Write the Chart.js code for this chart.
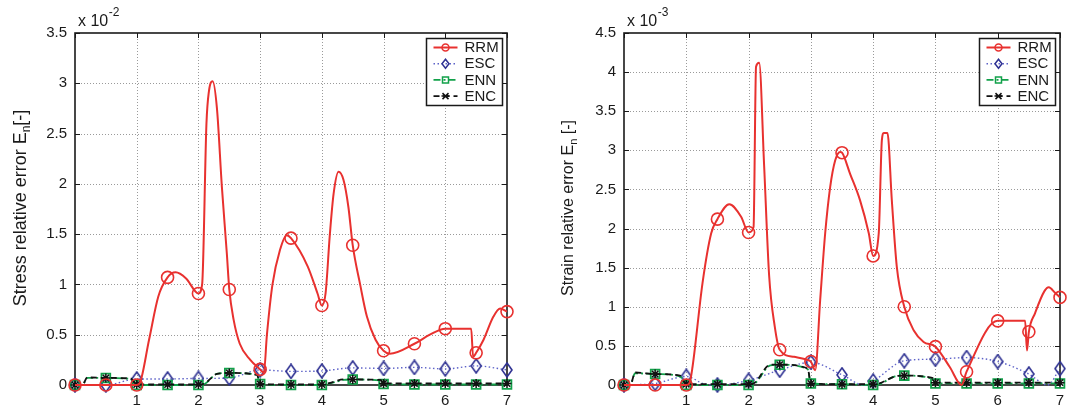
<!DOCTYPE html>
<html>
<head>
<meta charset="utf-8">
<script src="https://cdn.jsdelivr.net/npm/chart.js@4.4.0/dist/chart.umd.min.js"></script>
<style>
  html, body { margin: 0; padding: 0; background: #fff; }
  #wrap { position: relative; width: 1075px; height: 411px; overflow: hidden; }
  #left { position: absolute; left: 0; top: 0; }
  #right { position: absolute; left: 540px; top: 0; }
</style>
</head>
<body>
<div id="wrap">
  <canvas id="left" width="540" height="411"></canvas>
  <canvas id="right" width="535" height="411"></canvas>
</div>
<script>
// ticks
const xTickLabels = ['', '1', '2', '3', '4', '5', '6', '7'];
const stressTickLabels = ['0', '0.5', '1', '1.5', '2', '2.5', '3', '3.5'];
const strainTickLabels = ['0', '0.5', '1', '1.5', '2', '2.5', '3', '3.5', '4', '4.5'];
const seriesNames = ['RRM', 'ESC', 'ENN', 'ENC'];
// x positions carrying a marker
const markerX = [0, 0.5, 1, 1.5, 2, 2.5, 3, 3.5, 4, 4.5, 5, 5.5, 6, 6.5, 7];

// stress (x 10^-2)
const stressRrmX = [0, 0.5, 1, 1.05, 1.2, 1.35, 1.5, 1.63, 1.8, 2, 2.06, 2.13, 2.17, 2.23, 2.3, 2.38, 2.46, 2.5, 2.57, 2.67, 2.84, 3, 3.06, 3.11, 3.2, 3.32, 3.43, 3.5, 3.77, 3.93, 4, 4.06, 4.13, 4.19, 4.27, 4.35, 4.43, 4.5, 4.62, 4.73, 4.87, 5, 5.1, 5.5, 5.75, 6, 6.42, 6.45, 6.5, 6.62, 6.78, 6.89, 7];
const stressRrmY = [0, 0, 0, 0.02, 0.45, 0.88, 1.07, 1.12, 1.06, 0.91, 1.0, 2.6, 2.92, 3.02, 2.75, 1.97, 1.31, 0.95, 0.65, 0.41, 0.25, 0.155, 0.12, 0.5, 1.0, 1.34, 1.49, 1.46, 1.18, 0.91, 0.79, 0.91, 1.5, 1.9, 2.12, 2.04, 1.77, 1.39, 1.0, 0.68, 0.45, 0.34, 0.31, 0.41, 0.5, 0.56, 0.56, 0.28, 0.32, 0.45, 0.68, 0.76, 0.73];
const stressEscX = markerX;
const stressEscY = [0, 0, 0.06, 0.06, 0.065, 0.07, 0.15, 0.135, 0.14, 0.17, 0.165, 0.175, 0.16, 0.19, 0.15];
const stressNearX = [0, 0.12, 0.2, 0.5, 0.9, 1, 1.5, 2, 2.1, 2.3, 2.5, 2.95, 3, 3.5, 4, 4.1, 4.35, 4.5, 4.95, 5, 5.5, 6, 6.5, 7];
const stressEnnY = [0, 0, 0.07, 0.07, 0.06, 0, 0, 0, 0.01, 0.11, 0.12, 0.1, 0.01, 0, 0, 0.01, 0.05, 0.055, 0.045, 0.01, 0.005, 0.005, 0.005, 0.005];
const stressEncY = [0, 0, 0.075, 0.07, 0.065, 0.005, 0.005, 0.005, 0.015, 0.11, 0.12, 0.1, 0.01, 0.005, 0.005, 0.015, 0.055, 0.055, 0.05, 0.015, 0.015, 0.015, 0.015, 0.015];

// strain (x 10^-3)
const strainRrmX = [0, 0.5, 1, 1.05, 1.1, 1.26, 1.4, 1.5, 1.69, 1.88, 2, 2.08, 2.12, 2.17, 2.25, 2.33, 2.42, 2.5, 2.73, 2.95, 3, 3.07, 3.15, 3.23, 3.31, 3.39, 3.47, 3.5, 3.63, 3.79, 3.93, 4, 4.09, 4.14, 4.17, 4.23, 4.3, 4.38, 4.5, 4.65, 4.81, 5, 5.23, 5.42, 5.5, 6, 6.44, 6.47, 6.5, 6.6, 6.75, 6.82, 6.92, 7];
const strainRrmY = [0, 0, 0, 0.02, 0.23, 1.3, 1.94, 2.12, 2.31, 2.15, 1.95, 2.02, 4.07, 4.12, 2.8, 1.4, 0.75, 0.45, 0.36, 0.32, 0.3, 0.19, 1.09, 1.94, 2.53, 2.87, 2.98, 2.97, 2.7, 2.36, 1.94, 1.65, 1.94, 3.13, 3.22, 3.22, 2.36, 1.51, 1.0, 0.7, 0.55, 0.49, 0.23, 0, 0.17, 0.82, 0.82, 0.44, 0.68, 0.92, 1.2, 1.25, 1.18, 1.12];
const strainEscX = [0, 0.5, 1, 1.3, 1.5, 2, 2.5, 3, 3.5, 3.85, 4, 4.5, 5, 5.5, 6, 6.5, 6.8, 7];
const strainEscY = [0, 0.02, 0.11, 0.01, 0, 0.06, 0.19, 0.29, 0.13, 0, 0.05, 0.31, 0.33, 0.35, 0.3, 0.14, 0, 0.21];
const strainNearX = [0, 0.1, 0.18, 0.5, 0.9, 1, 1.5, 2, 2.1, 2.35, 2.5, 2.95, 3, 3.5, 4, 4.1, 4.35, 4.5, 4.95, 5, 5.5, 6, 6.5, 7];
const strainEnnY = [0, 0, 0.15, 0.14, 0.11, 0, 0, 0, 0.02, 0.25, 0.26, 0.2, 0.02, 0.01, 0, 0.01, 0.11, 0.12, 0.08, 0.02, 0.02, 0.02, 0.02, 0.02];
const strainEncY = [0, 0, 0.16, 0.14, 0.12, 0.01, 0.01, 0.01, 0.03, 0.26, 0.26, 0.21, 0.02, 0.01, 0.01, 0.02, 0.11, 0.12, 0.09, 0.03, 0.03, 0.03, 0.03, 0.03];

const RED = '#e8312f', BLUE = '#2e3192', BLUE_LINE = '#5d62c8', GREEN = '#12a14a', BLACK = '#111';
const FONT = '"Liberation Sans", Arial, Helvetica, sans-serif';
Chart.defaults.font.family = FONT;
Chart.defaults.font.size = 15;
Chart.defaults.color = '#1a1a1a';

// tall diamond marker (matlab 'd')
const diamond = document.createElement('canvas');
diamond.width = 12; diamond.height = 16;
(function(){
    const c = diamond.getContext('2d');
    c.strokeStyle = BLUE; c.lineWidth = 1.6;
    c.beginPath();
    c.moveTo(6, 1); c.lineTo(11, 8); c.lineTo(6, 15); c.lineTo(1, 8);
    c.closePath(); c.stroke();
})();

const markSet = new Set(markerX);
const pts = (xs, ys) => xs.map((x, i) => ({x: x, y: ys[i]}));
const markRadius = r => (ctx => (ctx.raw && markSet.has(ctx.raw.x)) ? r : 0);

// small marker for the legend
function drawMark(ctx, kind, x, y, color) {
    ctx.save();
    ctx.strokeStyle = color; ctx.lineWidth = 1.5; ctx.setLineDash([]);
    ctx.beginPath();
    if (kind === 'circle') {
        ctx.arc(x, y, 3.5, 0, Math.PI * 2);
    } else if (kind === 'diamond') {
        ctx.moveTo(x, y - 4.5); ctx.lineTo(x + 3.5, y); ctx.lineTo(x, y + 4.5); ctx.lineTo(x - 3.5, y); ctx.closePath();
    } else if (kind === 'square') {
        ctx.rect(x - 3, y - 3, 6, 6);
    } else {
        ctx.moveTo(x - 3, y - 3); ctx.lineTo(x + 3, y + 3);
        ctx.moveTo(x + 3, y - 3); ctx.lineTo(x - 3, y + 3);
        ctx.moveTo(x - 4, y); ctx.lineTo(x + 4, y);
    }
    ctx.stroke();
    ctx.restore();
}

const matlabPlugin = {
    id: 'matlab',
    beforeDatasetsDraw(chart, args, o) {
        const {ctx, chartArea: a, scales: {x, y}} = chart;
        ctx.save();
        // dotted grid
        ctx.strokeStyle = '#9a9a9a'; ctx.lineWidth = 1; ctx.setLineDash([1, 2]);
        ctx.beginPath();
        x.ticks.forEach(t => {
            const p = Math.round(x.getPixelForValue(t.value)) + 0.5;
            if (p > a.left + 2 && p < a.right - 2) { ctx.moveTo(p, a.top); ctx.lineTo(p, a.bottom); }
        });
        y.ticks.forEach(t => {
            const p = Math.round(y.getPixelForValue(t.value)) + 0.5;
            if (p > a.top + 2 && p < a.bottom - 2) { ctx.moveTo(a.left, p); ctx.lineTo(a.right, p); }
        });
        ctx.stroke();
        // inward ticks
        ctx.setLineDash([]);
        ctx.strokeStyle = '#1a1a1a'; ctx.lineWidth = 1;
        ctx.beginPath();
        x.ticks.forEach(t => {
            const p = Math.round(x.getPixelForValue(t.value)) + 0.5;
            ctx.moveTo(p, a.bottom); ctx.lineTo(p, a.bottom - 5);
            ctx.moveTo(p, a.top); ctx.lineTo(p, a.top + 5);
        });
        y.ticks.forEach(t => {
            const p = Math.round(y.getPixelForValue(t.value)) + 0.5;
            ctx.moveTo(a.left, p); ctx.lineTo(a.left + 5, p);
            ctx.moveTo(a.right, p); ctx.lineTo(a.right - 5, p);
        });
        ctx.stroke();
        ctx.lineWidth = 1.6;
        ctx.strokeRect(a.left, a.top, a.right - a.left, a.bottom - a.top);
        ctx.restore();
    },
    afterDatasetsDraw(chart, args, o) {
        const {ctx, chartArea: a} = chart;
        const w = 76, h = 67;
        const bx = Math.round(a.right - 5.5 - w) + 0.5, by = Math.round(a.top + 5) + 0.5;
        ctx.save();
        ctx.fillStyle = '#fff';
        ctx.fillRect(bx, by, w, h);
        ctx.strokeStyle = '#1a1a1a'; ctx.lineWidth = 1.5;
        ctx.strokeRect(bx, by, w, h);
        chart.data.datasets.forEach((ds, i) => {
            const cy = by + 9 + i * 16.2;
            ctx.strokeStyle = ds.borderColor;
            ctx.lineWidth = ds.borderWidth;
            ctx.setLineDash(ds.borderDash || []);
            ctx.beginPath(); ctx.moveTo(bx + 7, cy); ctx.lineTo(bx + 31, cy); ctx.stroke();
            drawMark(ctx, ds.markKind, bx + 19, cy, ds.pointBorderColor);
            ctx.fillStyle = '#1a1a1a';
            ctx.font = '15px ' + FONT;
            ctx.textBaseline = 'middle';
            ctx.fillText(ds.label, bx + 38, cy + 0.5);
        });
        ctx.restore();
    },
    afterDraw(chart, args, o) {
        const {ctx, chartArea: a} = chart;
        ctx.save();
        ctx.fillStyle = '#1a1a1a';
        // y title with subscript
        ctx.translate(o.titleX, (a.top + a.bottom) / 2 - 1);
        ctx.rotate(-Math.PI / 2);
        ctx.textBaseline = 'alphabetic';
        const big = o.titleSize + 'px ' + FONT, small = Math.round(o.titleSize * 0.68) + 'px ' + FONT;
        ctx.font = big;
        const w1 = ctx.measureText(o.title[0]).width, w3 = ctx.measureText(o.title[2]).width;
        ctx.font = small;
        const w2 = ctx.measureText(o.title[1]).width;
        let tx = -(w1 + w2 + w3) / 2;
        ctx.font = big; ctx.fillText(o.title[0], tx, 0); tx += w1;
        ctx.font = small; ctx.fillText(o.title[1], tx, 4); tx += w2;
        ctx.font = big; ctx.fillText(o.title[2], tx, 0);
        ctx.restore();
        // exponent label
        ctx.save();
        ctx.fillStyle = '#1a1a1a';
        ctx.textBaseline = 'alphabetic';
        ctx.font = '16px ' + FONT;
        const ex = a.left + 3;
        ctx.fillText('x 10', ex, 26);
        const ew = ctx.measureText('x 10').width;
        ctx.font = '12px ' + FONT;
        ctx.fillText(o.exponent, ex + ew + 0.5, 16);
        ctx.restore();
    }
};

function makeDatasets(rrm, esc, enn, enc) {
    return [
        {label: seriesNames[0], data: rrm, borderColor: RED, borderWidth: 2, pointStyle: 'circle',
         pointRadius: markRadius(6), pointBorderColor: RED, pointBorderWidth: 1.6, markKind: 'circle', order: 0},
        {label: seriesNames[1], data: esc, borderColor: BLUE_LINE, borderWidth: 1.4, borderDash: [1.5, 2.5], pointStyle: diamond,
         pointRadius: markRadius(5), pointBorderColor: BLUE, markKind: 'diamond', order: 3},
        {label: seriesNames[2], data: enn, borderColor: GREEN, borderWidth: 1.8, borderDash: [7, 3, 2, 3], pointStyle: 'rect',
         pointRadius: markRadius(6.2), pointBorderColor: GREEN, pointBorderWidth: 1.8, markKind: 'square', order: 2},
        {label: seriesNames[3], data: enc, borderColor: BLACK, borderWidth: 1.8, borderDash: [6, 4], pointStyle: 'star',
         pointRadius: markRadius(4.5), pointBorderColor: BLACK, pointBorderWidth: 1.5, markKind: 'star', order: 1}
    ];
}

function makeChart(id, datasets, yMax, yLabels, plotLeft, padRight, plug) {
    return new Chart(document.getElementById(id), {
        type: 'line',
        data: {datasets: datasets},
        options: {
            responsive: false,
            animation: false,
            events: [],
            clip: false,
            layout: {padding: {left: 0, right: padRight, top: 33, bottom: 0}},
            elements: {
                line: {cubicInterpolationMode: 'monotone', fill: false},
                point: {backgroundColor: 'rgba(0,0,0,0)', hitRadius: 0, hoverRadius: 0}
            },
            datasets: {line: {clip: false, pointBackgroundColor: 'rgba(0,0,0,0)'}},
            plugins: {legend: {display: false}, tooltip: {enabled: false}, matlab: plug},
            scales: {
                x: {
                    type: 'linear', min: 0, max: 7,
                    grid: {display: false, drawTicks: false},
                    border: {display: false},
                    ticks: {stepSize: 1, autoSkip: false, maxRotation: 0, padding: 7,
                            callback: v => xTickLabels[Math.round(v)]},
                    afterFit: s => { s.height = 26; }
                },
                y: {
                    min: 0, max: yMax,
                    grid: {display: false, drawTicks: false},
                    border: {display: false},
                    ticks: {stepSize: 0.5, autoSkip: false, padding: 8,
                            callback: v => yLabels[Math.round(v / 0.5)]},
                    afterFit: s => { s.width = plotLeft; }
                }
            }
        },
        plugins: [matlabPlugin]
    });
}

makeChart('left',
    makeDatasets(pts(stressRrmX, stressRrmY), pts(stressEscX, stressEscY), pts(stressNearX, stressEnnY), pts(stressNearX, stressEncY)),
    3.5, stressTickLabels, 75, 33,
    {title: ['Stress relative error E', 'n', '[-]'], titleX: 26, titleSize: 18, exponent: '-2'});

makeChart('right',
    makeDatasets(pts(strainRrmX, strainRrmY), pts(strainEscX, strainEscY), pts(strainNearX, strainEnnY), pts(strainNearX, strainEncY)),
    4.5, strainTickLabels, 84, 15,
    {title: ['Strain relative error E', 'n', ' [-]'], titleX: 33, titleSize: 16, exponent: '-3'});
</script>
</body>
</html>
